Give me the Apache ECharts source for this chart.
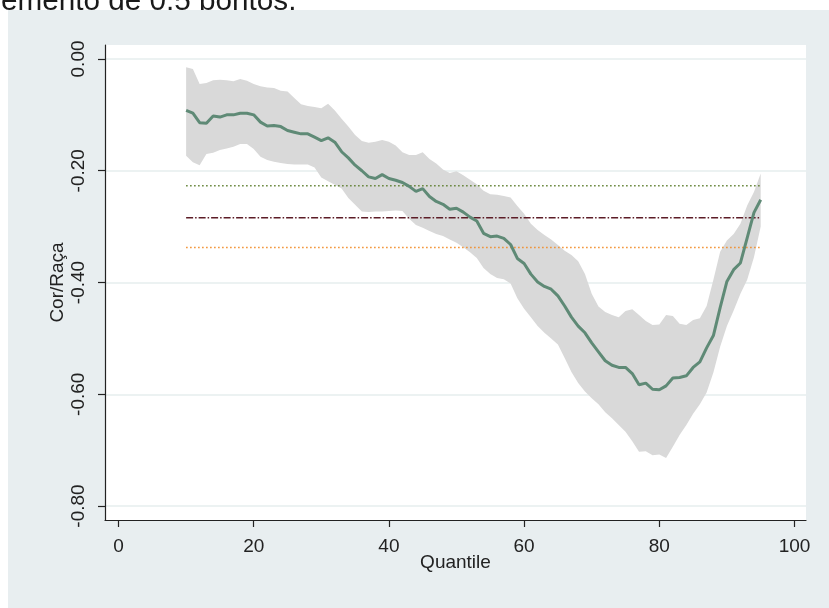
<!DOCTYPE html>
<html><head><meta charset="utf-8">
<script src="https://cdn.jsdelivr.net/npm/echarts@6/dist/echarts.min.js"></script>
<style>html,body{margin:0;padding:0;background:#fff}#c{width:829px;height:608px}</style>
</head><body><div id="c"></div>
<script>
const quantiles = [10,11,12,13,14,15,16,17,18,19,20,21,22,23,24,25,26,27,28,29,30,31,32,33,34,35,36,37,38,39,40,41,42,43,44,45,46,47,48,49,50,51,52,53,54,55,56,57,58,59,60,61,62,63,64,65,66,67,68,69,70,71,72,73,74,75,76,77,78,79,80,81,82,83,84,85,86,87,88,89,90,91,92,93,94,95];
const estimate = [-0.092,-0.097,-0.114,-0.115,-0.102,-0.104,-0.100,-0.100,-0.097,-0.097,-0.100,-0.113,-0.120,-0.119,-0.121,-0.128,-0.131,-0.134,-0.134,-0.140,-0.146,-0.141,-0.149,-0.166,-0.177,-0.190,-0.200,-0.211,-0.214,-0.207,-0.214,-0.217,-0.221,-0.228,-0.237,-0.232,-0.246,-0.255,-0.260,-0.269,-0.267,-0.274,-0.283,-0.290,-0.312,-0.318,-0.317,-0.321,-0.332,-0.357,-0.366,-0.385,-0.399,-0.407,-0.412,-0.424,-0.442,-0.462,-0.478,-0.490,-0.508,-0.524,-0.540,-0.548,-0.552,-0.552,-0.563,-0.583,-0.580,-0.591,-0.592,-0.585,-0.571,-0.570,-0.567,-0.552,-0.542,-0.517,-0.495,-0.445,-0.398,-0.377,-0.365,-0.320,-0.275,-0.252];
const upperCI = [-0.015,-0.018,-0.045,-0.043,-0.038,-0.037,-0.038,-0.040,-0.036,-0.039,-0.045,-0.049,-0.051,-0.052,-0.057,-0.058,-0.070,-0.081,-0.084,-0.086,-0.088,-0.080,-0.092,-0.107,-0.121,-0.136,-0.147,-0.150,-0.148,-0.145,-0.148,-0.155,-0.167,-0.172,-0.172,-0.167,-0.179,-0.187,-0.198,-0.204,-0.201,-0.208,-0.216,-0.224,-0.236,-0.242,-0.243,-0.245,-0.248,-0.263,-0.277,-0.295,-0.306,-0.315,-0.323,-0.333,-0.343,-0.351,-0.362,-0.385,-0.420,-0.443,-0.453,-0.458,-0.462,-0.451,-0.448,-0.458,-0.469,-0.476,-0.475,-0.458,-0.460,-0.474,-0.476,-0.467,-0.464,-0.442,-0.395,-0.345,-0.325,-0.313,-0.295,-0.262,-0.238,-0.205];
const lowerCI = [-0.173,-0.185,-0.190,-0.170,-0.168,-0.163,-0.160,-0.157,-0.152,-0.152,-0.161,-0.175,-0.181,-0.184,-0.186,-0.188,-0.189,-0.189,-0.189,-0.194,-0.212,-0.219,-0.225,-0.232,-0.249,-0.261,-0.273,-0.274,-0.273,-0.273,-0.272,-0.271,-0.272,-0.286,-0.297,-0.302,-0.308,-0.313,-0.317,-0.323,-0.329,-0.337,-0.346,-0.356,-0.374,-0.385,-0.392,-0.394,-0.402,-0.428,-0.447,-0.462,-0.478,-0.490,-0.500,-0.511,-0.535,-0.560,-0.580,-0.595,-0.607,-0.618,-0.632,-0.643,-0.655,-0.667,-0.684,-0.703,-0.702,-0.709,-0.708,-0.714,-0.694,-0.673,-0.655,-0.635,-0.618,-0.597,-0.561,-0.515,-0.478,-0.450,-0.420,-0.395,-0.355,-0.300];
const refLines = [-0.227, -0.284, -0.3375];
const refStart = 10, refEnd = 95;
const xTicks = [0, 20, 40, 60, 80, 100];
const yTicks = [0, -0.2, -0.4, -0.6, -0.8];
const xTitle = 'Quantile';
const yTitle = 'Cor/Raça';
const captionText = 'emento de 0.5 pontos.';

const font = 'Liberation Sans, Arial, sans-serif';
const chart = echarts.init(document.getElementById('c'), null, {renderer: 'canvas'});

const refStyles = [
  {color: '#5f7f30', type: [1.5, 2.5], width: 1.6},
  {color: '#5c1c26', type: [7, 2, 1.5, 2], width: 1.6},
  {color: '#f28c28', type: [1.5, 2.5], width: 1.6}
];

const series = [
  {
    type: 'custom', name: 'band', silent: true, z: 1,
    data: quantiles.map((q, i) => [q, lowerCI[i], upperCI[i]]),
    encode: {x: 0, y: [1, 2]},
    renderItem: function (params, api) {
      if (params.dataIndex !== 0) return null;
      const top = quantiles.map((q, i) => api.coord([q, upperCI[i]]));
      const bot = quantiles.map((q, i) => api.coord([q, lowerCI[i]])).reverse();
      return {type: 'polygon', shape: {points: top.concat(bot)}, style: {fill: '#d9d9d9'}};
    }
  }
];
refLines.forEach((v, i) => {
  series.push({
    type: 'line', symbol: 'none', silent: true, z: 2,
    data: [[refStart, v], [refEnd, v]],
    lineStyle: refStyles[i]
  });
});
series.push({
  type: 'line', name: 'est', symbol: 'none', z: 3,
  data: quantiles.map((q, i) => [q, estimate[i]]),
  lineStyle: {color: '#5f8a76', width: 3}
});

chart.setOption({
  backgroundColor: '#ffffff',
  animation: false,
  graphic: [
    {type: 'text', left: 1, top: -13, z: -20,
     style: {text: captionText, font: '29.7px ' + font, fill: '#1a1a1a'}},
    {type: 'rect', shape: {x: 8, y: 10, width: 821, height: 598}, z: -10,
     style: {fill: '#e8eef0'}}
  ],
  grid: {left: 105, right: 23, top: 45, bottom: 88, show: true, backgroundColor: '#ffffff', borderWidth: 0},
  xAxis: {
    type: 'value', min: -2, max: 101.7,
    name: xTitle, nameLocation: 'middle', nameGap: 33, nameMoveOverlap: false,
    nameTextStyle: {fontFamily: font, fontSize: 19, color: '#222'},
    axisLine: {show: true, onZero: false, lineStyle: {color: '#222', width: 1.2}},
    axisTick: {show: true, length: 7, customValues: xTicks, lineStyle: {color: '#222', width: 1.2}},
    axisLabel: {customValues: xTicks, fontFamily: font, fontSize: 19, color: '#222', margin: 17},
    splitLine: {show: false}
  },
  yAxis: {
    type: 'value', min: -0.825, max: 0.025,
    name: yTitle, nameLocation: 'middle', nameGap: 38, nameRotate: 90, nameMoveOverlap: false,
    nameTextStyle: {fontFamily: font, fontSize: 19, color: '#222'},
    axisLine: {show: true, onZero: false, lineStyle: {color: '#222', width: 1.2}},
    axisTick: {show: true, length: 7, customValues: yTicks, lineStyle: {color: '#222', width: 1.2}},
    axisLabel: {customValues: yTicks, rotate: 90, fontFamily: font, fontSize: 19, color: '#222', margin: 17,
      formatter: v => v.toFixed(2)},
    splitLine: {show: true, lineStyle: {color: '#e6eeee', width: 1.5}}
  },
  series: series
});
</script></body></html>
